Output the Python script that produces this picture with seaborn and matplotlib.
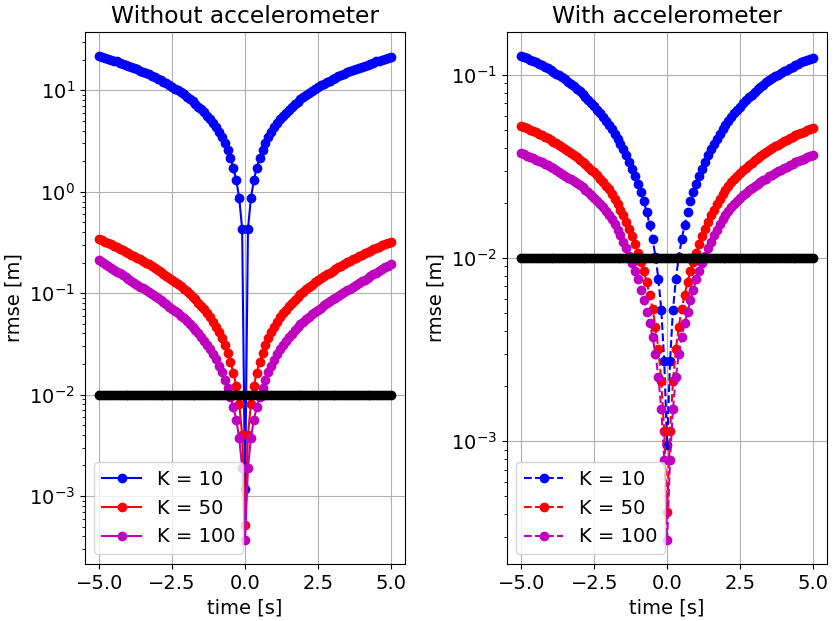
import numpy as np
import matplotlib
matplotlib.use("Agg")
import matplotlib.pyplot as plt
import seaborn as sns

plt.rcParams["font.size"] = 14
plt.rcParams["font.family"] = ["DejaVu Sans"]

# time axis [s]
time = np.linspace(-5.0, 5.0, 101)

# ---------- Without accelerometer ----------
without_k10 = [
    21.8, 21.3, 20.9, 20.5, 20.0, 19.6, 19.2, 18.7, 18.3, 17.8,
    17.4, 17.0, 16.5, 16.1, 15.6, 15.2, 14.7, 14.3, 13.9, 13.4,
    13.0, 12.5, 12.1, 11.7, 11.3, 10.8, 10.4, 9.95, 9.51, 9.08,
    8.65, 8.21, 7.78, 7.35, 6.91, 6.48, 6.04, 5.61, 5.18, 4.74,
    4.31, 3.88, 3.45, 3.02, 2.58, 2.15, 1.72, 1.29, 0.86, 0.43,
    0.00117,
    0.43, 0.86, 1.29, 1.72, 2.15, 2.58, 3.01, 3.44, 3.87, 4.30,
    4.73, 5.16, 5.59, 6.02, 6.45, 6.88, 7.31, 7.74, 8.17, 8.60,
    9.03, 9.46, 9.89, 10.3, 10.7, 11.2, 11.6, 12.0, 12.4, 12.9,
    13.3, 13.7, 14.1, 14.6, 15.0, 15.4, 15.8, 16.2, 16.7, 17.1,
    17.5, 17.9, 18.3, 18.7, 19.2, 19.6, 20.0, 20.4, 20.8, 21.3,
]
without_k50 = [
    0.3405, 0.3305, 0.3207, 0.3111, 0.3016, 0.2922, 0.2831, 0.2741, 0.2652, 0.2564,
    0.2479, 0.2394, 0.2312, 0.2230, 0.2150, 0.2071, 0.1994, 0.1918, 0.1843, 0.1770,
    0.1698, 0.1627, 0.1558, 0.1490, 0.1423, 0.1357, 0.1293, 0.1229, 0.1167, 0.1107,
    0.1046, 0.0987, 0.0926, 0.0867, 0.0808, 0.0750, 0.0692, 0.0636, 0.0579, 0.0524,
    0.0468, 0.0413, 0.0360, 0.0308, 0.0258, 0.0210, 0.0164, 0.0122, 0.0081, 0.0040,
    0.00052,
    0.0040, 0.0081, 0.0122, 0.0164, 0.0210, 0.0258, 0.0308, 0.0360, 0.0413, 0.0467,
    0.0522, 0.0577, 0.0633, 0.0689, 0.0746, 0.0803, 0.0861, 0.0919, 0.0978, 0.1036,
    0.1095, 0.1154, 0.1214, 0.1275, 0.1337, 0.1400, 0.1464, 0.1529, 0.1595, 0.1662,
    0.1730, 0.1799, 0.1869, 0.1940, 0.2012, 0.2085, 0.2159, 0.2234, 0.2310, 0.2387,
    0.2465, 0.2544, 0.2624, 0.2705, 0.2787, 0.2870, 0.2954, 0.3039, 0.3125, 0.3212,
]
without_k100 = [
    0.2110, 0.2022, 0.1936, 0.1855, 0.1777, 0.1702, 0.1631, 0.1562, 0.1497, 0.1435,
    0.1375, 0.1318, 0.1263, 0.1210, 0.1160, 0.1112, 0.1065, 0.1020, 0.0977, 0.0934,
    0.0893, 0.0853, 0.0814, 0.0775, 0.0738, 0.0701, 0.0665, 0.0630, 0.0596, 0.0563,
    0.0529, 0.0497, 0.0465, 0.0433, 0.0403, 0.0372, 0.0341, 0.0311, 0.0280, 0.0251,
    0.0222, 0.0193, 0.0166, 0.0140, 0.0116, 0.0094, 0.0075, 0.0056, 0.0037, 0.0019,
    0.00037,
    0.0019, 0.0037, 0.0056, 0.0075, 0.0094, 0.0116, 0.0140, 0.0166, 0.0193, 0.0221,
    0.0250, 0.0279, 0.0309, 0.0339, 0.0369, 0.0399, 0.0429, 0.0460, 0.0491, 0.0522,
    0.0554, 0.0586, 0.0619, 0.0652, 0.0686, 0.0721, 0.0756, 0.0792, 0.0829, 0.0866,
    0.0904, 0.0943, 0.0983, 0.1024, 0.1066, 0.1110, 0.1155, 0.1202, 0.1251, 0.1302,
    0.1355, 0.1410, 0.1467, 0.1527, 0.1589, 0.1654, 0.1722, 0.1792, 0.1865, 0.1940,
]

# ---------- With accelerometer ----------
with_k10 = [
    0.1270, 0.1250, 0.1231, 0.1212, 0.1191, 0.1171, 0.1150, 0.1128, 0.1107, 0.1085,
    0.1063, 0.1040, 0.1017, 0.0993, 0.0969, 0.0944, 0.0919, 0.0894, 0.0868, 0.0841,
    0.0815, 0.0787, 0.0759, 0.0732, 0.0704, 0.0676, 0.0647, 0.0619, 0.0591, 0.0562,
    0.0534, 0.0506, 0.0477, 0.0449, 0.0421, 0.0393, 0.0364, 0.0336, 0.0308, 0.0281,
    0.0254, 0.0229, 0.0204, 0.0178, 0.0152, 0.0127, 0.0102, 0.0077, 0.0052, 0.00275,
    0.00095,
    0.00275, 0.0052, 0.0077, 0.0102, 0.0127, 0.0152, 0.0178, 0.0204, 0.0229, 0.0254,
    0.0281, 0.0308, 0.0336, 0.0364, 0.0392, 0.0420, 0.0448, 0.0476, 0.0504, 0.0532,
    0.0560, 0.0588, 0.0616, 0.0644, 0.0672, 0.0700, 0.0727, 0.0754, 0.0781, 0.0808,
    0.0834, 0.0860, 0.0885, 0.0910, 0.0934, 0.0958, 0.0981, 0.1004, 0.1026, 0.1048,
    0.1069, 0.1090, 0.1110, 0.1130, 0.1150, 0.1169, 0.1188, 0.1206, 0.1224, 0.1242,
]
with_k50 = [
    0.0526, 0.0518, 0.0510, 0.0502, 0.0493, 0.0485, 0.0476, 0.0467, 0.0459, 0.0450,
    0.0442, 0.0432, 0.0423, 0.0414, 0.0404, 0.0395, 0.0385, 0.0376, 0.0366, 0.0355,
    0.0345, 0.0335, 0.0325, 0.0314, 0.0304, 0.0294, 0.0283, 0.0271, 0.0260, 0.0249,
    0.0237, 0.0223, 0.0210, 0.0197, 0.0184, 0.0171, 0.0158, 0.0145, 0.0132, 0.0119,
    0.0106, 0.0095, 0.0085, 0.0074, 0.0063, 0.0053, 0.0042, 0.0032, 0.00213, 0.00114,
    0.00041,
    0.00114, 0.00213, 0.0032, 0.0042, 0.0053, 0.0063, 0.0074, 0.0085, 0.0095, 0.0106,
    0.0119, 0.0132, 0.0145, 0.0158, 0.0171, 0.0184, 0.0197, 0.0210, 0.0223, 0.0236,
    0.0248, 0.0259, 0.0270, 0.0281, 0.0292, 0.0302, 0.0312, 0.0322, 0.0332, 0.0342,
    0.0352, 0.0362, 0.0372, 0.0381, 0.0390, 0.0399, 0.0408, 0.0417, 0.0426, 0.0435,
    0.0443, 0.0451, 0.0459, 0.0467, 0.0475, 0.0483, 0.0491, 0.0499, 0.0506, 0.0513,
]
with_k100 = [
    0.0375, 0.0369, 0.0363, 0.0357, 0.0351, 0.0345, 0.0339, 0.0333, 0.0328, 0.0321,
    0.0315, 0.0309, 0.0302, 0.0296, 0.0289, 0.0282, 0.0275, 0.0269, 0.0263, 0.0256,
    0.0250, 0.0243, 0.0236, 0.0229, 0.0221, 0.0214, 0.0206, 0.0198, 0.0190, 0.0181,
    0.0172, 0.0163, 0.0153, 0.0143, 0.0133, 0.0123, 0.0113, 0.0103, 0.0094, 0.0085,
    0.0077, 0.0067, 0.0059, 0.0051, 0.0044, 0.0037, 0.0030, 0.00224, 0.0015, 0.00079,
    0.00029,
    0.00079, 0.0015, 0.00224, 0.0030, 0.0037, 0.0044, 0.0051, 0.0059, 0.0067, 0.0077,
    0.0085, 0.0094, 0.0103, 0.0113, 0.0123, 0.0133, 0.0143, 0.0153, 0.0163, 0.0172,
    0.0181, 0.0189, 0.0197, 0.0205, 0.0213, 0.0220, 0.0227, 0.0234, 0.0241, 0.0248,
    0.0254, 0.0260, 0.0266, 0.0272, 0.0279, 0.0285, 0.0292, 0.0298, 0.0304, 0.0310,
    0.0316, 0.0322, 0.0327, 0.0333, 0.0338, 0.0344, 0.0349, 0.0355, 0.0360, 0.0366,
]

# reference level (constant 1 cm)
reference_level = [0.01] * len(time)

labels = ["K = 10", "K = 50", "K = 100"]
colors = ["b", "r", "m"]
titles = ["Without accelerometer", "With accelerometer"]

panels = [
    ([without_k10, without_k50, without_k100], "-"),
    ([with_k10, with_k50, with_k100], "--"),
]

fig, axes = plt.subplots(1, 2, figsize=(8.35, 6.21), dpi=100)
fig.subplots_adjust(left=84.7 / 835, right=827.5 / 835,
                    bottom=(621 - 564.0) / 621, top=(621 - 31.7) / 621,
                    wspace=0.316)

for ax, (series, ls), title in zip(axes, panels, titles):
    for vals, lab, col in zip(series, labels, colors):
        sns.lineplot(x=time, y=vals, ax=ax, color=col, linestyle=ls,
                     marker="o", markersize=6, markeredgecolor=col,
                     markeredgewidth=1.0, linewidth=1.5, label=lab,
                     errorbar=None)
    sns.lineplot(x=time, y=reference_level, ax=ax, color="k", linestyle=ls,
                 marker="o", markersize=6, markeredgecolor="k",
                 markeredgewidth=1.0, linewidth=1.5, errorbar=None)
    ax.set_yscale("log")
    ax.relim()
    ax.autoscale_view()
    ax.grid(True)
    ax.set_title(title)
    ax.set_xlabel("time [s]")
    ax.set_ylabel("rmse [m]")
    ax.legend(loc="lower left")

fig.savefig("out.png", dpi=100)
